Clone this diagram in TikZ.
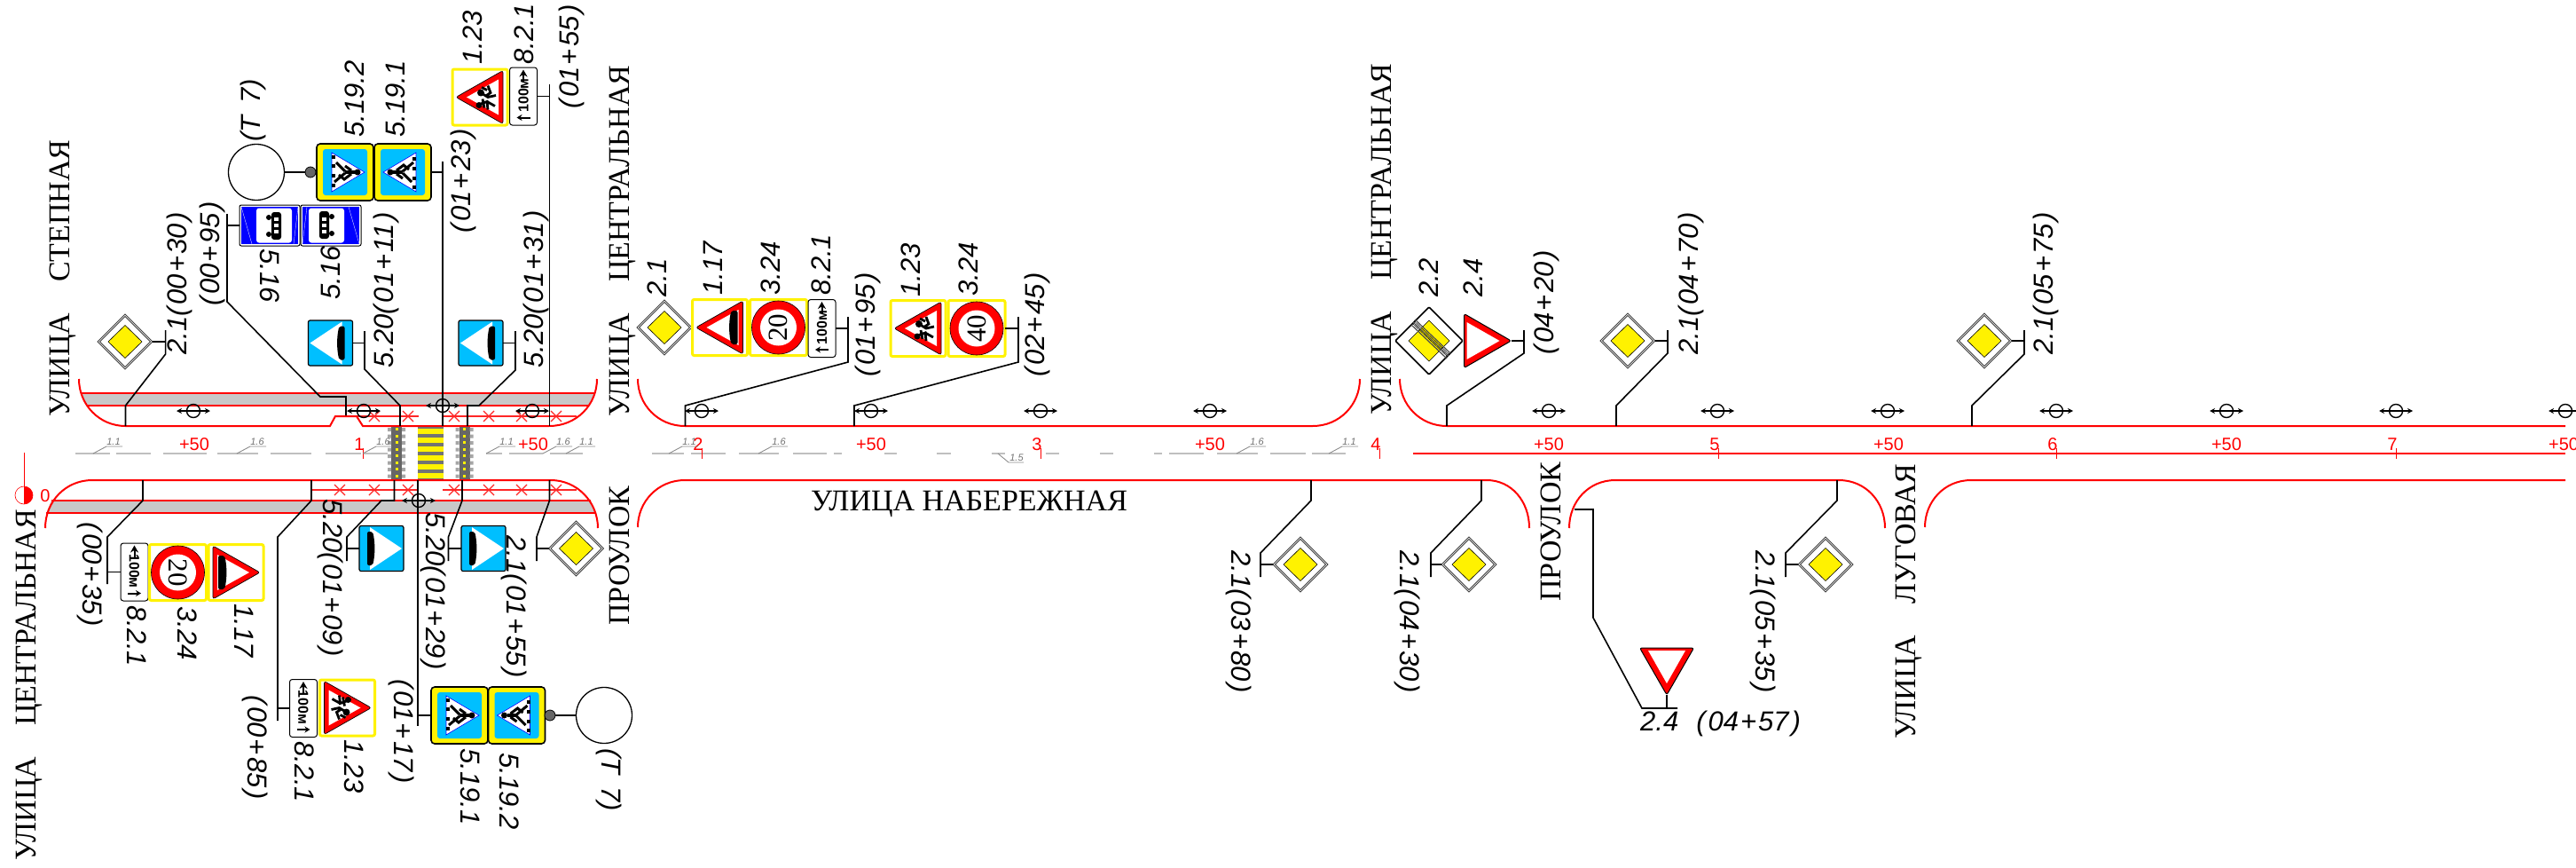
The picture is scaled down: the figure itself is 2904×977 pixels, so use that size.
\documentclass[tikz,border=0pt]{standalone}
\usepackage{fontspec}
\setmainfont{Liberation Serif}
\newfontfamily\isofont{Liberation Sans}
\usetikzlibrary{arrows.meta}
\definecolor{signblue}{HTML}{00BFFF}
\definecolor{bandgray}{HTML}{C8C8C8}
\newcommand\picket[2]{(\kern3pt#1\kern2pt+\kern2pt#2\kern3pt)}
\newcommand\warnbase{%
  \draw[yellow,line width=3pt,fill=white,rounded corners=2pt] (-31,-31.5) rectangle (31,31.5);
  \draw[fill=red,line width=.7pt,rounded corners=2.5pt] (-27,0) -- (26,-30) -- (26,30) -- cycle;
  \fill[white] (-15,0) -- (21,-20) -- (21,20) -- cycle;
  \coordinate (-e) at (31,0);}
\tikzset{
  post/.style={draw=black,line width=1.6pt},
  roadline/.style={draw=red,line width=2pt},
  lane/.style={draw=red!85,line width=1.1pt},
  axisline/.style={draw=black!25,line width=1.5pt},
  street/.style={font=\fontsize{34}{34}\selectfont,inner sep=0pt,anchor=base west},
  labflat/.style={font=\isofont\itshape\fontsize{31}{31}\selectfont,inner sep=0pt,anchor=base west},
  labup/.style={labflat,rotate=90},
  labdn/.style={labflat,rotate=-90},
  station/.style={font=\isofont\fontsize{20}{20}\selectfont,text=red,inner sep=0pt,anchor=base},
  pics/prio/.style={code={
    \draw[fill=white,draw=black!75,line width=.8pt] (-31,0) -- (0,-31) -- (31,0) -- (0,31) -- cycle;
    \draw[draw=black!75,line width=.8pt] (-28.5,0) -- (0,-28.5) -- (28.5,0) -- (0,28.5) -- cycle;
    \draw[fill=yellow,line width=.6pt] (-19,0) -- (0,-18.5) -- (19,0) -- (0,18.5) -- cycle;
    \coordinate (-e) at (31,0); \coordinate (-w) at (-31,0);}},
  pics/prioend/.style={code={
    \draw[fill=white,line width=1.6pt,rounded corners=1pt] (-38,0) -- (0,-38) -- (38,0) -- (0,38) -- cycle;
    \draw[fill=yellow,line width=.5pt] (-23,0) -- (0,-23) -- (23,0) -- (0,23) -- cycle;
    \draw[black!70,line width=1.2pt] (-18,-21) -- (22,17) (-20,-18) -- (20,20) (-16,-24) -- (24,14);
    \draw[line width=.5pt] (-19,-20) -- (21,18) (-17,-22.5) -- (23,15.5);}},
  pics/giveway/.style={code={
    \draw[fill=red,line width=1pt,rounded corners=2.5pt] (27,0) -- (-26,-30.5) -- (-26,30.5) -- cycle;
    \fill[white] (14,0) -- (-23,-21) -- (-23,21) -- cycle;
    \coordinate (-e) at (27,0);}},
  pics/warnbump/.style={code={
    \warnbase
    \fill[black,rounded corners=2pt] (13,-19) .. controls (10,-8) and (10,8) .. (13,19) -- (20,19) -- (20,-19) -- cycle;}},
  pics/warnkids/.style={code={
    \warnbase
    \fill (1,-5) circle (4) (-1,9) circle (3.5);
    \draw[line width=2.8pt] (1,-5) -- (9,0) -- (18,-2) (9,-13) -- (12,-5) -- (6,-1) (2,-11) -- (8,-8)
      (-3,9) -- (8,5) -- (9,14) (8,5) -- (17,10) (3,2) -- (5,12);}},
  pics/speed/.style n args={2}{code={
    \draw[yellow,line width=3pt,fill=white,rounded corners=2pt] (-32,-31.5) rectangle (32,31.5);
    \draw[fill=red,line width=.6pt] (0,0) circle (30);
    \fill[white] (0,0) circle (20.5);
    \node[rotate=#2,inner sep=0pt,font=\fontsize{31}{31}\selectfont] (-n) at (0,0) {#1};
    \coordinate (-e) at (32,0);}},
  pics/plate/.style={code={
    \draw[fill=white,line width=1pt,rounded corners=3pt] (-15.5,-32.5) rectangle (15.5,32.5);
    \node[rotate=#1,inner sep=0pt,font=\isofont\bfseries\fontsize{16}{16}\selectfont] (-n) at (0,-1) {100м};
    \draw[-{Stealth[length=8pt,width=9pt]},line width=2pt] (0,-16) -- (0,-30);
    \draw[-{Stealth[length=6pt,width=7pt]},line width=2pt] (#1/12,24) -- (-#1/12,24);
    \coordinate (-e) at (15.5,0); \coordinate (-w) at (-15.5,0);}},
  pics/bumpsign/.style={code={
    \draw[fill=signblue,line width=1.2pt,rounded corners=2pt] (-25,-25.5) rectangle (25,25.5);
    \fill[white] (-23,0) -- (13,-24) -- (13,24) -- cycle;
    \fill[black,rounded corners=2pt] (10,-19) .. controls (7,-8) and (7,8) .. (10,19) -- (16,19) -- (16,-19) -- cycle;
    \coordinate (-e) at (25,0);}},
  pics/pedsign/.style={code={
    \draw[fill=yellow,line width=1.6pt,rounded corners=4pt] (-32,-32) rectangle (32,32);
    \fill[signblue,rounded corners=3pt] (-25,-26) rectangle (25,26);
    \draw[fill=white,draw=blue,line width=.6pt] (-22,0) -- (15,-22) -- (15,22) -- cycle;
    \fill (-14,0) circle (3.5);
    \draw[line width=4.5pt] (-11,0) -- (0,0);
    \draw[line width=3pt] (0,-1) -- (12,-11) (0,1) -- (10,11) (-7,-2) -- (1,-8) -- (7,-3) (-7,2) -- (0,7);
    \foreach \y in {-17,-6,5,15} {\fill (11,\y) rectangle (15,\y+4);}
    \coordinate (-e) at (32,0); \coordinate (-w) at (-32,0);}},
  pics/lanesign/.style={code={
    \draw[fill=white,line width=1pt,rounded corners=2pt] (-34,-23) rectangle (34,23);
    \fill[blue] (-32,-21) rectangle (32,21);
    \fill[white,rounded corners=3pt] (-15,-19.5) rectangle (25,19.5);
    \draw[white,line width=.3pt] (-32,-21) -- (-20,21) (32,-21) -- (27,21);
    \fill (-1,-9) circle (3) (-1,10) circle (3);
    \fill[rounded corners=3pt] (2,-15) rectangle (13,16);
    \foreach \y in {-9,-2,5} {\fill[white] (5,\y) rectangle (10,\y+4);}
    \coordinate (-w) at (-34,0);}},
  pics/lamp/.style={code={
    \draw[{Stealth[length=6pt,width=6pt]}-{Stealth[length=6pt,width=6pt]},line width=1.3pt] (-19,0) -- (19,0);
    \draw[line width=1.4pt] (0,0) circle (7.5);}},
  pics/callout/.style={code={
    \draw[black!45,line width=.9pt] (0,0) -- (15,-8) -- (33,-8);
    \node[font=\isofont\itshape\fontsize{11}{11}\selectfont,text=black!55,inner sep=0pt,anchor=base] (-n) at (23,-10) {#1};}}
}
\begin{document}
\begin{tikzpicture}[x=1pt,y=-1pt]
\useasboundingbox (0,0) rectangle (2904,977);
% road bands
\fill[bandgray] (91.5,443) -- (670.5,443) -- (664,457) -- (98,457) -- cycle;
\fill[bandgray] (58,564) -- (666,564) -- (671,578) -- (52,578) -- cycle;
\draw[roadline] (91.5,443) -- (670.5,443) (98,457) -- (664,457) (58,564) -- (666,564) (52,578) -- (671,578);
\draw[lane] (402,469) -- (472,469) (500,469) -- (650,469) (352,552) -- (472,552) (499,552) -- (650,552);
\foreach \x in {422,460,512,551,588,627} {
  \draw[lane] (\x-6,463) -- (\x+6,475) (\x-6,475) -- (\x+6,463);}
\foreach \x in {383,422,460,512,551,588,627} {
  \draw[lane] (\x-6,546) -- (\x+6,558) (\x-6,558) -- (\x+6,546);}
% road edges
\draw[roadline] (89,427) .. controls (89,456) and (112,480) .. (141.5,480) -- (372,480) -- (378,469) -- (402,469) -- (409,480) -- (619,480) .. controls (650,480) and (673,456) .. (673,427);
\draw[roadline] (51,595) .. controls (51,565) and (74,541) .. (104,541) -- (621,541) .. controls (650,541) and (674,565) .. (674,595);
\draw[roadline] (719,427) .. controls (719,456) and (742,480) .. (772,480) -- (1480,480) .. controls (1510,480) and (1533,456) .. (1533,427);
\draw[roadline] (1578,427) .. controls (1578,456) and (1601,480) .. (1631,480) -- (2892,480);
\draw[roadline] (719,594) .. controls (719,565) and (742,541) .. (772,541) -- (1676,541) .. controls (1704,541) and (1724,565) .. (1724,595);
\draw[roadline] (1769,595) .. controls (1769,565) and (1791,541) .. (1821,541) -- (2073,541) .. controls (2103,541) and (2125,565) .. (2125,595);
\draw[roadline] (2170,594) .. controls (2170,565) and (2192,541) .. (2222,541) -- (2892,541);
\draw[roadline] (1593,511) -- (2892,511);
% axis
\foreach \a/\b in {85/124,131/170,184/233,245/291,305/351,367/407,410/437,548/566,574/612,620/657,735/771,779/818,833/878,894/932,940/949,997/1011,1056/1072,1118/1133,1179/1194,1240/1255,1301/1310,1318/1357,1372/1418,1432/1472,1479/1517} {
  \draw[axisline] (\a,511) -- (\b,511);}
% crossings
\fill[black!55] (471,481) rectangle (500,540);
\foreach \y in {483,493,...,533} {\fill[yellow] (471,\y) rectangle (500,\y+6);}
\foreach \x in {447,523.5} {
  \fill[black!60] (\x-6,481) rectangle (\x+6,540);
  \foreach \y in {482,489.5,...,537} {
    \fill[black!35] (\x-10,\y) rectangle (\x-6,\y+4) (\x+6,\y) rectangle (\x+10,\y+4);
    \fill[yellow] (\x-1.5,\y) rectangle (\x+1.5,\y+3);}}
% stations
\foreach \x/\t in {409/1,791/2,1173/3,1555/4,1937/5,2318/6,2701/7} {
  \draw[red,line width=.5pt] (\x,505) -- (\x,517);
  \node[station] (km\t) at (\x-4,507) {\t};}
\foreach \x in {219,601,982,1364,1746,2129,2510,2890} {
  \node[station] (hm\x) at (\x,507) {+50};}
\node[station] (km0) at (51,565) {0};
\coordinate (zt) at (27,510);
\coordinate (zc) at (27,558);
\draw[red,line width=.5pt] (zt) -- (zc);
\draw[red,line width=.6pt,fill=white] (zc) circle (10);
\fill[red] (27,548) arc[start angle=-90,end angle=90,radius=10] -- cycle;
% marking callouts
\foreach \x/\t in {105/1.1,267/1.6,409/1.6,548/1.1,612/1.6,638/1.1,754/1.1,855/1.6,1394/1.6,1498/1.1} {
  \pic (cm\x) at (\x,511) {callout=\t};}
\coordinate (cs) at (1125,511);
\draw[black!45,line width=.9pt] (cs) -- (1137,521) -- (1154,521);
\node[font=\isofont\itshape\fontsize{11}{11}\selectfont,text=black!55,inner sep=0pt,anchor=base] (cst) at (1146,519) {1.5};
% lamps
\foreach \x in {218,410,600,791,982,1173,1364,1746,1936,2128,2318,2510,2701,2892} {
  \pic at (\x,463) {lamp};}
\pic at (499,457) {lamp};
\pic at (472,564) {lamp};
% posts with the usual shape
\foreach \n/\fx/\bx/\by/\ty in {a/141.5/186.6/399/372,b/772.5/956/408/357,c/963/1148/408/357,d/1631/1718/398/372,e/1822/1880/398/372,g/2223/2282/399/372} {
  \coordinate (f\n) at (\fx,480);
  \coordinate (t\n) at (\bx,\ty);
  \draw[post] (f\n) -- (\fx,457) -- (\bx,\by) -- (t\n);}
\foreach \n/\fx/\bx/\by/\ey in {h/161/121/605/658,i/351/313/605/812,j/521/505.5/605/632,k/619.5/605/605/632,l/1478/1421/623/650,m/1670/1613/623/650,n/2071/2013/623/650} {
  \coordinate (f\n) at (\fx,541);
  \coordinate (t\n) at (\bx,\ey);
  \draw[post] (f\n) -- (\fx,564) -- (\bx,\by) -- (t\n);}
% other posts
\coordinate (fo) at (390,468); \coordinate (to) at (256,241);
\draw[post] (fo) -- (390,447) -- (361,447) -- (256,340) -- (to);
\coordinate (fp) at (451,480); \coordinate (tp) at (411,373);
\draw[post] (fp) -- (451,457) -- (411,416) -- (tp);
\coordinate (fq) at (527,480); \coordinate (tq) at (581,373);
\draw[post] (fq) -- (527,457) -- (540,457) -- (581,417) -- (tq);
\coordinate (fr) at (499,480); \coordinate (tr) at (499,182);
\draw[post] (fr) -- (tr);
\coordinate (fs) at (619.5,480); \coordinate (ts) at (619.5,95);
\draw[post] (fs) -- (ts);
\coordinate (fu) at (444.5,541); \coordinate (tu) at (391,632);
\draw[post] (fu) -- (444.5,564) -- (430,564) -- (391,605) -- (tu);
\coordinate (fv) at (471,541); \coordinate (tv) at (471,818);
\draw[post] (fv) -- (tv);
\coordinate (fw) at (1775,574); \coordinate (tw) at (1851,798); \coordinate (ew) at (1891,798);
\draw[post] (fw) -- (1796,574) -- (1796,696) -- (tw) -- (ew);
% priority signs
\foreach \n/\x/\y in {d1/141/385,d2/649.5/618,d3/749/369,d4/1466/636,d5/1656/636,d6/1835/384,d7/2058/636,d8/2237/384} {
  \pic (\n) at (\x,\y) {prio};}
\draw[post] (d1-e) -- (d1-e -| ta);
\draw[post] (d2-w) -- (d2-w -| tk);
\draw[post] (d4-w) -- (d4-w -| tl);
\draw[post] (d5-w) -- (d5-w -| tm);
\draw[post] (d6-e) -- (d6-e -| te);
\draw[post] (d7-w) -- (d7-w -| tn);
\draw[post] (d8-e) -- (d8-e -| tg);
% upper left signs
\node[draw,circle,inner sep=0pt,minimum size=63pt,line width=1.3pt] (lampa) at (289,194) {};
\node[draw,circle,fill=black!60,inner sep=0pt,minimum size=12pt,line width=.8pt] (dota) at (350,194) {};
\pic (pa) [rotate=180] at (389,194) {pedsign};
\pic (pb) at (454,194) {pedsign};
\draw[post] (lampa) -- (dota);
\draw[post] (pb-e) -- (pb-e -| tr);
\pic (la) at (304,254) {lanesign};
\pic (lb) [rotate=180] at (373,254) {lanesign};
\draw[post] (la-w) -- (la-w -| to);
\pic (ba) at (372.5,386.5) {bumpsign};
\pic (bb) at (542,386.5) {bumpsign};
\draw[post] (ba-e) -- (ba-e -| tp);
\draw[post] (bb-e) -- (bb-e -| tq);
\pic at (541,109.5) {warnkids};
\pic (pl1) at (590,108.5) {plate=90};
\draw[post] (pl1-e) -- (pl1-e -| ts);
% lower left signs
\pic (pl2) at (151.5,644.5) {plate=-90};
\pic at (200.5,645) {speed={20}{-90}};
\pic [rotate=180] at (266,645) {warnbump};
\draw[post] (pl2-w) -- (pl2-w -| th);
\pic (pl3) at (342,798) {plate=-90};
\pic [rotate=180] at (391.5,797.5) {warnkids};
\draw[post] (pl3-w) -- (pl3-w -| ti);
\pic (bc) [rotate=180] at (430,618) {bumpsign};
\pic (bd) [rotate=180] at (545,618) {bumpsign};
\draw[post] (bc-e) -- (bc-e -| tu);
\draw[post] (bd-e) -- (bd-e -| tj);
\pic (pc) [rotate=180] at (518,806) {pedsign};
\pic (pd) at (582.5,806) {pedsign};
\node[draw,circle,fill=black!60,inner sep=0pt,minimum size=12pt,line width=.8pt] (dotb) at (620,806) {};
\node[draw,circle,inner sep=0pt,minimum size=63pt,line width=1.3pt] (lampb) at (681,806) {};
\draw[post] (lampb) -- (dotb);
\draw[post] (pc-e) -- (pc-e -| tv);
% middle signs
\pic at (811.5,369) {warnbump};
\pic at (877.5,369) {speed={20}{90}};
\pic (pl4) at (926.5,370) {plate=90};
\draw[post] (pl4-e) -- (pl4-e -| tb);
\pic at (1035,370) {warnkids};
\pic (sa) at (1101,370) {speed={40}{90}};
\draw[post] (sa-e) -- (sa-e -| tc);
\pic at (1611,384) {prioend};
\pic (ya) at (1676.5,384) {giveway};
\draw[post] (ya-e) -- (ya-e -| td);
\pic (yb) [rotate=-90] at (1879,756) {giveway};
\draw[post] (yb-e) -- (yb-e |- tw);
% street names
\node[street,rotate=90] (st1) at (78,470) {УЛИЦА\hspace{35pt}СТЕПНАЯ};
\node[street,rotate=90] (st2) at (40,970) {УЛИЦА\hspace{35pt}ЦЕНТРАЛЬНАЯ};
\node[street,rotate=90] (st3) at (709,470) {УЛИЦА\hspace{35pt}ЦЕНТРАЛЬНАЯ};
\node[street,rotate=90] (st4) at (709,705) {ПРОУЛОК};
\node[street] (st5) at (914,575) {УЛИЦА НАБЕРЕЖНАЯ};
\node[street,rotate=90] (st6) at (1568,468) {УЛИЦА\hspace{35pt}ЦЕНТРАЛЬНАЯ};
\node[street,rotate=90] (st7) at (1759,678) {ПРОУЛОК};
\node[street,rotate=90] (st8) at (2159,833) {УЛИЦА\hspace{35pt}ЛУГОВАЯ};
% sign texts, upper side
\node[labup] (u1) at (210,400) {2.1\picket{00}{30}};
\node[labup] (u2) at (247,345) {\picket{00}{95}};
\node[labup] (u3) at (383,338) {5.16};
\node[labdn] (u4) at (293,280) {5.16};
\node[labup] (u5) at (443,415) {5.20\picket{01}{11}};
\node[labup] (u6) at (612,415) {5.20\picket{01}{31}};
\node[labup] (u7) at (293,160) {(Т\kern14pt7)};
\node[labup] (u8) at (410,155) {5.19.2};
\node[labup] (u9) at (456,155) {5.19.1};
\node[labup] (u10) at (530,263) {\picket{01}{23}};
\node[labup] (u11) at (543,73) {1.23};
\node[labup] (u12) at (601,73) {8.2.1};
\node[labup] (u13) at (652,123) {\picket{01}{55}};
\node[labup] (u14) at (751,335) {2.1};
\node[labup] (u15) at (814,333) {1.17};
\node[labup] (u16) at (879,333) {3.24};
\node[labup] (u17) at (936,333) {8.2.1};
\node[labup] (u18) at (986,425) {\picket{01}{95}};
\node[labup] (u19) at (1037,335) {1.23};
\node[labup] (u20) at (1102,334) {3.24};
\node[labup] (u21) at (1177,425) {\picket{02}{45}};
\node[labup] (u22) at (1621,335) {2.2};
\node[labup] (u23) at (1671,335) {2.4};
\node[labup] (u24) at (1751,400) {\picket{04}{20}};
\node[labup] (u25) at (1914,400) {2.1\picket{04}{70}};
\node[labup] (u26) at (2314,400) {2.1\picket{05}{75}};
% sign texts, lower side
\node[labdn] (v1) at (93,588) {\picket{00}{35}};
\node[labdn] (v2) at (143,682) {8.2.1};
\node[labdn] (v3) at (200,683) {3.24};
\node[labdn] (v4) at (264,680) {1.17};
\node[labdn] (v5) at (279,783) {\picket{00}{85}};
\node[labdn] (v6) at (332,835) {8.2.1};
\node[labdn] (v7) at (388,833) {1.23};
\node[labdn] (v8) at (364,562) {5.20\picket{01}{09}};
\node[labdn] (v9) at (480,577) {5.20\picket{01}{29}};
\node[labdn] (v10) at (444,765) {\picket{01}{17}};
\node[labdn] (v11) at (519,843) {5.19.1};
\node[labdn] (v12) at (563,848) {5.19.2};
\node[labdn] (v13) at (678,843) {(Т\kern14pt7)};
\node[labdn] (v14) at (571,603) {2.1\picket{01}{55}};
\node[labdn] (v15) at (1388,620) {2.1\picket{03}{80}};
\node[labdn] (v16) at (1578,620) {2.1\picket{04}{30}};
\node[labdn] (v17) at (1979,620) {2.1\picket{05}{35}};
\node[labflat] (v18) at (1849,823) {2.4\hspace{20pt}\picket{04}{57}};
\end{tikzpicture}
\end{document}
